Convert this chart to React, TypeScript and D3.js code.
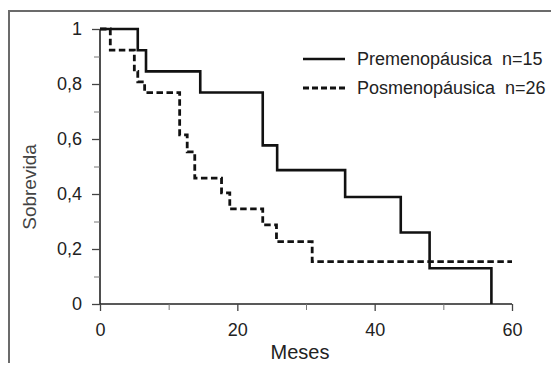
import React, { useEffect, useRef } from "react";
import * as d3 from "d3";

// Kaplan-Meier curves (months, survival)
const premenoMonths = [0, 5.5, 6.7, 14.6, 23.7, 25.8, 35.7, 43.8, 48, 57];
const premenoSurvival = [1, 0.923, 0.846, 0.769, 0.577, 0.487, 0.389, 0.26, 0.13, 0];

const posmenoMonths = [0, 1.5, 5, 5.5, 6.5, 11.6, 12.7, 13.8, 17.7, 18.9, 23.7, 25.7, 30.9, 60];
const posmenoSurvival = [1, 0.923, 0.846, 0.808, 0.769, 0.615, 0.553, 0.458, 0.404, 0.346, 0.288, 0.227, 0.154, 0.154];

const seriesLabels = ["Premenopáusica  n=15", "Posmenopáusica  n=26"];
const yTicks = [0, 0.2, 0.4, 0.6, 0.8, 1];
const yMinorTicks = [0.1, 0.3, 0.5, 0.7, 0.9];
const xTicks = [0, 20, 40, 60];
const xMinorTicks = [10, 30, 50];

const W = 551;
const H = 367;
const margin = { top: 29, right: 39, bottom: 63, left: 100 };
const FONT = "'Liberation Sans', Arial, sans-serif";

function App() {
  const svgRef = useRef<SVGSVGElement>(null);

  useEffect(() => {
    const root = d3.select(svgRef.current);
    root.selectAll("*").remove();

    const width = W - margin.left - margin.right;
    const height = H - margin.top - margin.bottom;

    const x = d3.scaleLinear().domain([0, 60]).range([0, width]);
    const y = d3.scaleLinear().domain([0, 1]).range([height, 0]);

    // grey frame on top and left only
    root
      .append("path")
      .attr("d", `M9,363 L9,11 L551,11`)
      .attr("fill", "none")
      .attr("stroke", "#6b6b6b")
      .attr("stroke-width", 2);

    const g = root.append("g").attr("transform", `translate(${margin.left},${margin.top})`);

    // Y axis
    const yAxis = g
      .append("g")
      .call(
        d3
          .axisLeft(y)
          .tickValues(yTicks)
          .tickSize(8)
          .tickPadding(10)
          .tickFormat((d) => d3.format(".1~f")(d as number).replace(".", ","))
      );
    g.append("g")
      .call(d3.axisLeft(y).tickValues(yMinorTicks).tickSize(6).tickFormat(() => ""))
      .call((s) => s.select(".domain").remove())
      .selectAll("line")
      .attr("stroke", "#777");

    // X axis
    const xAxis = g
      .append("g")
      .attr("transform", `translate(0,${height})`)
      .call(d3.axisBottom(x).tickValues(xTicks).tickSize(7).tickPadding(12));
    g.append("g")
      .attr("transform", `translate(0,${height})`)
      .call(d3.axisBottom(x).tickValues(xMinorTicks).tickSize(6).tickFormat(() => ""))
      .call((s) => s.select(".domain").remove())
      .selectAll("line")
      .attr("stroke", "#777");

    [yAxis, xAxis].forEach((a) => {
      a.select(".domain").attr("stroke", "#222").attr("stroke-width", 1.6);
      a.selectAll(".tick line").attr("stroke", "#444").attr("stroke-width", 1.3);
      a.selectAll("text")
        .attr("font-family", FONT)
        .attr("font-size", 18)
        .attr("fill", "#222");
    });
    yAxis.select(".domain").attr("d", `M0,${height}V0`);
    xAxis.select(".domain").attr("d", `M0,0H${width}`);

    // axis titles
    g.append("text")
      .attr("x", 300 - margin.left)
      .attr("y", 359 - margin.top)
      .attr("text-anchor", "middle")
      .attr("font-family", FONT)
      .attr("font-size", 20)
      .attr("fill", "#222")
      .text("Meses");

    g.append("text")
      .attr("transform", `translate(${29 - margin.left},${187 - margin.top}) rotate(-90)`)
      .attr("text-anchor", "middle")
      .attr("dy", "0.35em")
      .attr("font-family", FONT)
      .attr("font-size", 19)
      .attr("fill", "#444")
      .text("Sobrevida");

    const solid = premenoMonths.map((m, i) => [x(m), y(premenoSurvival[i])] as [number, number]);
    const dashed = posmenoMonths.map((m, i) => [x(m), y(posmenoSurvival[i])] as [number, number]);
    const lineGen = d3.line().curve(d3.curveStepAfter);

    g.append("path")
      .attr("d", lineGen(dashed))
      .attr("fill", "none")
      .attr("stroke", "#111")
      .attr("stroke-width", 2.8)
      .attr("stroke-dasharray", "6.5,3.5");

    g.append("path")
      .attr("d", lineGen(solid))
      .attr("fill", "none")
      .attr("stroke", "#111")
      .attr("stroke-width", 2.6);

    // legend
    const legend = root.append("g");
    seriesLabels.forEach((label, i) => {
      const ly = 59 + i * 29;
      legend
        .append("line")
        .attr("x1", 303)
        .attr("x2", 345)
        .attr("y1", ly)
        .attr("y2", ly)
        .attr("stroke", "#111")
        .attr("stroke-width", i === 0 ? 2.6 : 2.8)
        .attr("stroke-dasharray", i === 0 ? null : "6,3");
      legend
        .append("text")
        .attr("x", 357)
        .attr("y", ly)
        .attr("dy", "0.35em")
        .attr("font-family", FONT)
        .attr("font-size", 18)
        .attr("fill", "#222")
        .style("white-space", "pre")
        .text(label);
    });
  }, []);

  return (
    <svg
      ref={svgRef}
      width={W}
      height={H}
      style={{ position: "absolute", left: 0, top: 0, background: "#fff" }}
    />
  );
}

export default App;
